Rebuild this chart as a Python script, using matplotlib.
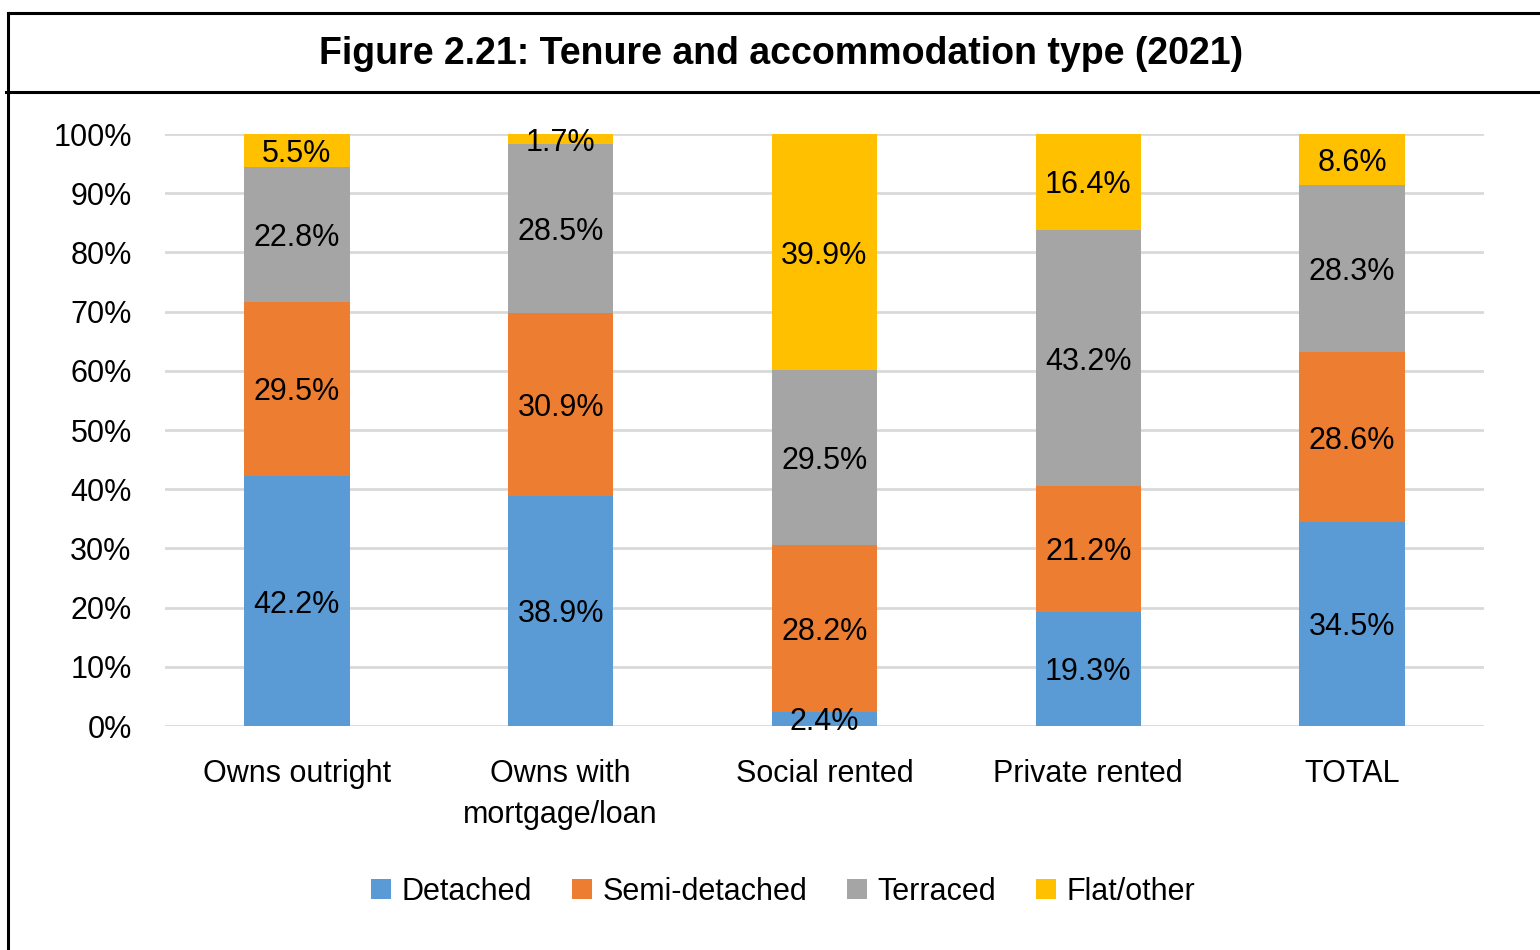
import numpy as np
import matplotlib
matplotlib.use("Agg")
import matplotlib.pyplot as plt
from matplotlib.lines import Line2D
from matplotlib.patches import Patch

plt.rcParams['font.family'] = ['Liberation Sans', 'DejaVu Sans']

categories = ["Owns outright", "Owns with\nmortgage/loan", "Social rented", "Private rented", "TOTAL"]
series = ["Detached", "Semi-detached", "Terraced", "Flat/other"]
detached = [42.2, 38.9, 2.4, 19.3, 34.5]
semi = [29.5, 30.9, 28.2, 21.2, 28.6]
terraced = [22.8, 28.5, 29.5, 43.2, 28.3]
flat = [5.5, 1.7, 39.9, 16.4, 8.6]
colors = ["#5B9BD5", "#ED7D31", "#A5A5A5", "#FFC000"]

FS = 22
W, H = 1540, 950
fig = plt.figure(figsize=(W / 100, H / 100), dpi=100)
ax = fig.add_axes([165 / W, 1 - 726 / H, (1484 - 165) / W, (726 - 134) / H])

x = np.arange(len(categories))
bottom = np.zeros(len(categories))
for name, vals, c in zip(series, [detached, semi, terraced, flat], colors):
    vals = np.array(vals)
    ax.bar(x, vals, 0.4, bottom=bottom, color=c, label=name, zorder=3)
    for xi, b, v in zip(x, bottom, vals):
        ax.text(xi, b + v / 2, f"{v:.1f}%", ha="center", va="center_baseline",
                fontsize=FS, color="black", zorder=4)
    bottom += vals

ax.set_xlim(-0.5, len(categories) - 0.5)
ax.set_ylim(0, 100)
ax.set_yticks(np.arange(0, 101, 10))
ax.set_yticklabels([f"{v}%" for v in range(0, 101, 10)], fontsize=FS)
ax.set_xticks(x)
ax.set_xticklabels(categories, fontsize=FS, linespacing=1.45)
ax.tick_params(axis="y", length=0, pad=24)
ax.tick_params(axis="x", length=0, pad=24)
ax.grid(axis="y", color="#D9D9D9", lw=2, zorder=0)
for s in ax.spines.values():
    s.set_visible(False)

handles = [Patch(facecolor=c, label=n) for n, c in zip(series, colors)]
fig.legend(handles=handles, loc="center", bbox_to_anchor=(783 / W, 1 - 892 / H),
           ncol=4, frameon=False, fontsize=FS, handlelength=0.65, handleheight=0.65,
           handletextpad=0.35, columnspacing=1.3)

fig.text(781 / W, 1 - 50 / H, "Figure 2.21: Tenure and accommodation type (2021)",
         ha="center", va="center_baseline", fontsize=27, fontweight="bold")

# frame lines
fig.add_artist(Line2D([8 / W, 1], [1 - 13 / H, 1 - 13 / H], color="black", lw=2.2))
fig.add_artist(Line2D([6 / W, 1], [1 - 92 / H, 1 - 92 / H], color="black", lw=2.2))
fig.add_artist(Line2D([8 / W, 8 / W], [0, 1 - 13 / H], color="black", lw=2.2))

fig.savefig("out.png", dpi=100)
